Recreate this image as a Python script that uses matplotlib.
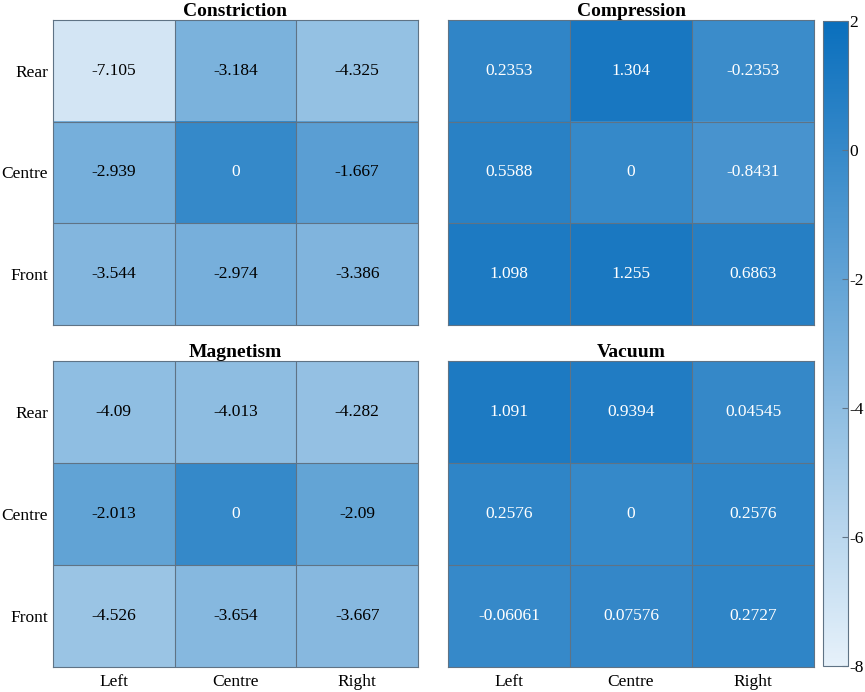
import numpy as np
import matplotlib
matplotlib.use("Agg")
import matplotlib.pyplot as plt
from matplotlib.colors import LinearSegmentedColormap, Normalize

plt.rcParams['font.family'] = ['Liberation Serif', 'DejaVu Serif']
plt.rcParams['axes.unicode_minus'] = False

cols = ["Left", "Centre", "Right"]
rows = ["Rear", "Centre", "Front"]
titles = ["Constriction", "Compression", "Magnetism", "Vacuum"]

constriction = [[-7.105, -3.184, -4.325],
                [-2.939, 0, -1.667],
                [-3.544, -2.974, -3.386]]
compression = [[0.2353, 1.304, -0.2353],
               [0.5588, 0, -0.8431],
               [1.098, 1.255, 0.6863]]
magnetism = [[-4.09, -4.013, -4.282],
             [-2.013, 0, -2.09],
             [-4.526, -3.654, -3.667]]
vacuum = [[1.091, 0.9394, 0.04545],
          [0.2576, 0, 0.2576],
          [-0.06061, 0.07576, 0.2727]]
cbar_ticks = [-8, -6, -4, -2, 0, 2]

data = [constriction, compression, magnetism, vacuum]

W, H = 865, 692
fig = plt.figure(figsize=(W/100, H/100), dpi=100)
cmap = LinearSegmentedColormap.from_list("mblue", ["#e6f1fa", "#0a6fbd"])
norm = Normalize(vmin=-8, vmax=2)
edge = "#5f7385"

def px(x0, y0, x1, y1):
    return [x0/W, 1 - y1/H, (x1-x0)/W, (y1-y0)/H]

boxes = [px(53, 20, 418, 325), px(448, 20, 814, 325),
         px(53, 361, 418, 667), px(448, 361, 814, 667)]

for i, (d, t, b) in enumerate(zip(data, titles, boxes)):
    ax = fig.add_axes(b)
    arr = np.array(d)
    ax.imshow(arr, cmap=cmap, norm=norm, aspect='auto')
    for k in range(1, 3):
        ax.axhline(k - 0.5, color=edge, lw=0.8)
        ax.axvline(k - 0.5, color=edge, lw=0.8)
    for r in range(3):
        for c in range(3):
            v = arr[r, c]
            ax.text(c, r, '{:.4g}'.format(v), ha='center', va='center',
                    fontsize=12.5, color='white' if v > -1.2 else 'black')
    for s in ax.spines.values():
        s.set_color(edge)
        s.set_linewidth(0.8)
    ax.set_title(t, fontsize=14, fontweight='bold', pad=3)
    ax.tick_params(axis='y', length=0, labelsize=12.5, pad=3.5)
    ax.tick_params(axis='x', length=0, labelsize=12.5, pad=5)
    if i % 2 == 0:
        ax.set_yticks(range(3))
        ax.set_yticklabels(rows)
    else:
        ax.set_yticks([])
    if i >= 2:
        ax.set_xticks(range(3))
        ax.set_xticklabels(cols)
    else:
        ax.set_xticks([])

cax = fig.add_axes(px(823, 21, 848, 666))
sm = matplotlib.cm.ScalarMappable(norm=norm, cmap=cmap)
cb = fig.colorbar(sm, cax=cax)
cb.set_ticks(cbar_ticks)
cb.ax.tick_params(labelsize=12.5, direction='in', length=4, color=edge, pad=1)
cb.outline.set_edgecolor(edge)
cb.outline.set_linewidth(0.8)

fig.savefig("out.png", dpi=100)
